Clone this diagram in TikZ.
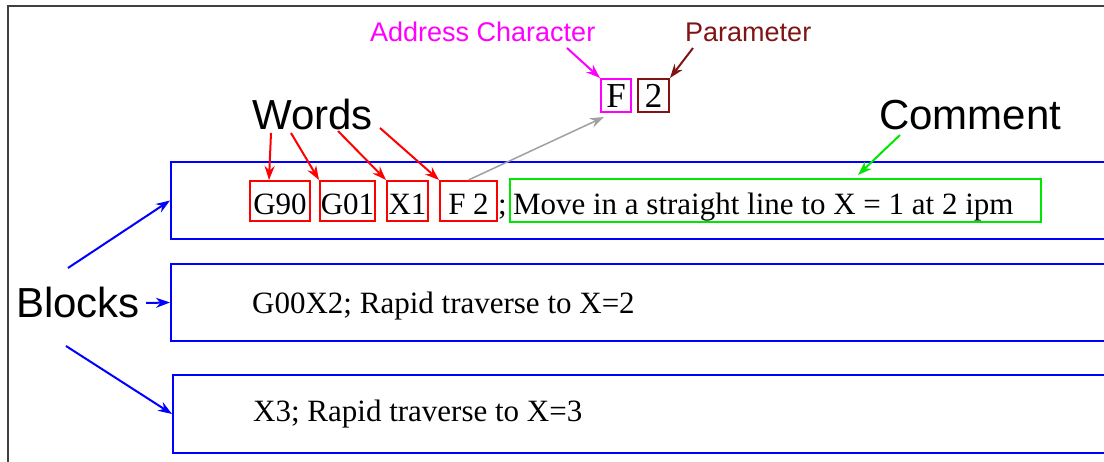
\documentclass[tikz,border=0pt]{standalone}
\usepackage{fontspec}
\setmainfont{Liberation Serif}
\setsansfont{Liberation Sans}
\usetikzlibrary{arrows.meta, positioning}
\definecolor{blockblue}{RGB}{0,0,255}
\definecolor{wordred}{RGB}{255,0,0}
\definecolor{commentgreen}{RGB}{0,230,0}
\definecolor{addrmagenta}{RGB}{255,0,255}
\definecolor{parambrown}{RGB}{128,20,20}
\definecolor{linkgray}{RGB}{160,160,160}

\begin{document}
\begin{tikzpicture}[
    x=1pt, y=-1pt,
    every node/.style={inner sep=0pt},
    bigtext/.style={font=\sffamily\fontsize{42}{42}\selectfont, anchor=base west},
    smalltag/.style={font=\sffamily\fontsize{27}{27}\selectfont, anchor=base west},
    codetext/.style={font=\fontsize{31}{31}\selectfont, anchor=base west},
    blockbox/.style={draw=blockblue, line width=2pt, minimum width=1000pt,
                     minimum height=77pt, anchor=north west},
    wordbox/.style={codetext, draw=wordred, line width=2pt, inner ysep=3pt,
                    text height=31pt, text depth=3pt},
    charbox/.style={codetext, font=\fontsize{35}{35}\selectfont, line width=2pt,
                    inner ysep=2pt, text height=27pt, text depth=2pt},
    arrow/.style={-{Stealth[length=14pt, width=10pt]}, line width=2pt}
]
\useasboundingbox (0,0) rectangle (1104,462);
\clip (0,0) rectangle (1104,462);

% frame
\draw[black!75, line width=1.8pt] (8,470) -- (8,6) -- (1110,6);

% blocks
\node[blockbox] (blk1) at (170,161) {};
\node[blockbox] (blk2) at (170,263) {};
\node[blockbox, minimum height=78pt] (blk3) at (172,374) {};

% words of the first block
\node[wordbox, minimum width=60pt] (g90) at (249,215) {G90};
\node[wordbox, minimum width=55pt] (g01) at (319,215) {G01};
\node[wordbox, minimum width=41pt] (x1) at (386,215) {X1};
\node[wordbox, minimum width=57pt] (f2) at (439,215) {F 2};
\node[codetext] (semi) at (498,215) {;};
\node[codetext, draw=commentgreen, line width=2pt, inner xsep=3pt, inner ysep=3pt,
      text height=33pt, text depth=4pt] (cmt) at (509,215)
    {\makebox[525pt][l]{Move in a straight line to X = 1 at 2 ipm}};

\node[codetext] (blk2txt) at (252,314) {G00X2; Rapid traverse to X=2};
\node[codetext] (blk3txt) at (253,421) {X3; Rapid traverse to X=3};

% address character and parameter
\node[charbox, draw=addrmagenta, minimum width=30pt] (addr) at (600,108) {F};
\node[charbox, draw=parambrown, minimum width=31pt] (param) at (637,108) {2};

% labels
\node[bigtext] (words) at (252,130) {Words};
\node[bigtext] (comment) at (879,130) {Comment};
\node[bigtext] (blocks) at (16,318) {Blocks};
\node[smalltag, text=addrmagenta] (addrlbl) at (370,42) {Address Character};
\node[smalltag, text=parambrown] (paramlbl) at (685,42) {Parameter};

\coordinate (w1) at (271,133);
\coordinate (w2) at (291,133);
\coordinate (w3) at (338,131);
\coordinate (w4) at (380,128);
\coordinate (b1) at (68,268);
\coordinate (b3) at (66,346);
\coordinate (a1) at (567,48);
\coordinate (p1) at (693,48);
\coordinate (c1) at (900,135);
\coordinate (ctip) at (858,175);
\coordinate (ftip) at (604,117);

\draw[arrow, wordred] (w1) -- ([xshift=20pt]g90.north west);
\draw[arrow, wordred] (w2) -- (g01.north west);
\draw[arrow, wordred] (w3) -- (x1.north west);
\draw[arrow, wordred] (w4) -- (f2.north west);
\draw[arrow, linkgray, line width=1.5pt] (f2.north) -- (ftip);
\draw[arrow, addrmagenta] (a1) -- (addr.north west);
\draw[arrow, parambrown] (p1) -- (param.north east);
\draw[arrow, commentgreen] (c1) -- (ctip);
\draw[arrow, blockblue] (b1) -- (blk1.west);
\draw[arrow, blockblue] ([xshift=6pt]blocks.east) -- (blk2.west);
\draw[arrow, blockblue] (b3) -- (blk3.west);

\end{tikzpicture}
\end{document}
